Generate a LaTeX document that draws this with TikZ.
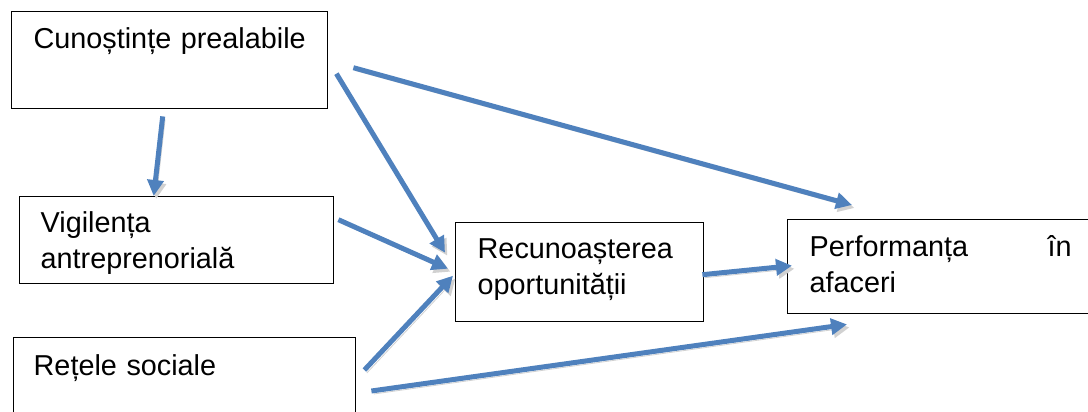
\documentclass[tikz,border=0pt]{standalone}
\usepackage{fontspec}
\setmainfont{Liberation Sans}
\usetikzlibrary{arrows.meta, calc}
\definecolor{arrowBlue}{RGB}{79,129,189}
\begin{document}
\begin{tikzpicture}[x=0.5pt, y=-0.5pt, boxStyle/.style={rectangle, draw, line width=0.7pt, anchor=north west, align=left, inner ysep=0pt, font=\fontsize{14.4}{18}\selectfont}, arrowStyle/.style={draw=arrowBlue, line width=2.5pt, -{Triangle[length=8pt, width=8pt]}, preaction={draw=black!18, transform canvas={shift={(1.2pt,-1.5pt)}}}}]
                    \useasboundingbox (0,0) rectangle (1088,412);
                    \node[boxStyle, align=center, inner xsep=0pt, text width=158pt, text height=18.5pt, text depth=30pt] (cunostinte) at (11, 11) {Cunoștințe prealabile};
                    \node[boxStyle, inner xsep=10.5pt, text width=136pt, text height=18pt, text depth=25.5pt] (vigilenta) at (19, 196) {Vigilența\\antreprenorială};
                    \node[boxStyle, inner xsep=11pt, text width=102pt, text height=18pt, text depth=31.5pt] (recunoastere) at (455, 222) {Recunoașterea\\oportunității};
                    \node[boxStyle, inner xsep=11pt, text width=180pt, text height=18.5pt, text depth=28.5pt] (performanta) at (787, 219) {Performanța\hfill\mbox{în\hspace{49pt}}\\afaceri};
                    \node[boxStyle, inner xsep=10pt, text width=151pt, text height=19pt, text depth=32.5pt] (retele) at (13, 337) {Rețele sociale};
                    % legaturi
                    \draw[arrowStyle] ($(cunostinte.south)+(-7,7)$) -- ($(vigilenta.north)+(-23,0)$);
                    \draw[arrowStyle] ($(cunostinte.east)+(8,13.5)$) -- ($(recunoastere.west)+(-10,-19.5)$);
                    \draw[arrowStyle] ($(cunostinte.east)+(25,7.5)$) -- ($(performanta.north west)+(65,-14)$);
                    \draw[arrowStyle] ($(vigilenta.east)+(4,-20.5)$) -- ($(recunoastere.west)+(-7,-3.5)$);
                    \draw[arrowStyle] ($(retele.north east)+(8,33)$) -- ($(recunoastere.west)+(-2,3.5)$);
                    \draw[arrowStyle] ($(recunoastere.east)+(-2,2.5)$) -- ($(performanta.west)+(5,-1)$);
                    \draw[arrowStyle] ($(retele.north east)+(15,54)$) -- ($(performanta.south west)+(60,10)$);
                \end{tikzpicture}
\end{document}
